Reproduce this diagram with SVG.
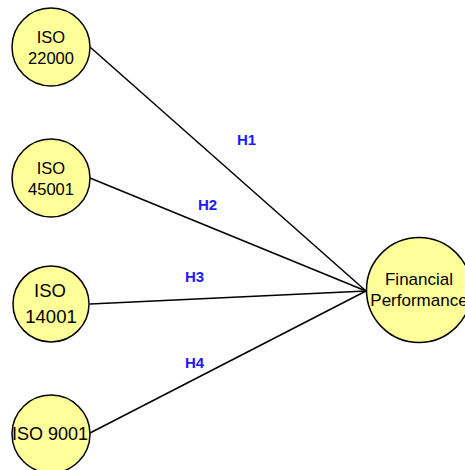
<svg xmlns="http://www.w3.org/2000/svg" width="465" height="470" viewBox="0 0 465 470">
<style>
.node{fill:#ffff99;stroke:#000;stroke-width:1.5}
.t{font-family:"Liberation Sans",Arial,sans-serif;fill:#000;text-anchor:middle}
.h{font-family:"Liberation Sans",Arial,sans-serif;font-weight:bold;font-size:15px;fill:#1a1aff}
.c{stroke:#000;stroke-width:1.5;fill:none}
</style>
<rect width="465" height="470" fill="#fff"/>
<g id="connectors">
<line class="c" x1="90" y1="47" x2="366" y2="291"/>
<line class="c" x1="90" y1="178" x2="366" y2="291"/>
<line class="c" x1="90" y1="304" x2="366" y2="291"/>
<line class="c" x1="90" y1="433" x2="366" y2="291"/>
<text class="h" x="237" y="145">H1</text>
<text class="h" x="198" y="210">H2</text>
<text class="h" x="185" y="282">H3</text>
<text class="h" x="185" y="368">H4</text>
</g>
<g id="iso22000">
<circle class="node" cx="51" cy="47" r="39"/>
<text class="t" font-size="16.5" x="51" y="43">ISO</text>
<text class="t" font-size="16.5" x="51" y="64">22000</text>
</g>
<g id="iso45001">
<circle class="node" cx="51" cy="178" r="39"/>
<text class="t" font-size="16.5" x="51" y="174">ISO</text>
<text class="t" font-size="16.5" x="51" y="195">45001</text>
</g>
<g id="iso14001">
<circle class="node" cx="51" cy="304" r="38"/>
<text class="t" font-size="18.5" x="50" y="297">ISO</text>
<text class="t" font-size="18.5" x="51" y="323">14001</text>
</g>
<g id="iso9001">
<circle class="node" cx="51" cy="434" r="39"/>
<text class="t" font-size="18" x="50" y="440">ISO 9001</text>
</g>
<g id="financial">
<circle class="node" cx="419" cy="290" r="52.5"/>
<text class="t" font-size="17" x="419" y="285">Financial</text>
<text class="t" font-size="17" x="419" y="306">Performance</text>
</g>
</svg>
